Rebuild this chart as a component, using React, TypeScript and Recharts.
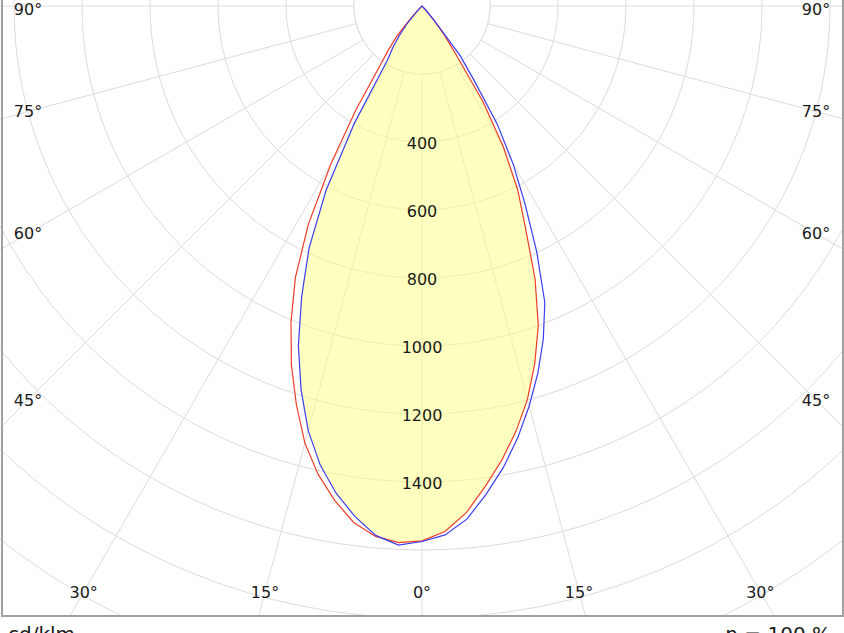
import React from 'react';
import { RadarChart, Radar, PolarGrid, PolarAngleAxis, PolarRadiusAxis } from 'recharts';

// gamma angle (deg from nadir), negative = left half of the diagram
const gammaAngles = [
  -50, -47.5, -45, -42.5, -40, -37.5, -35, -32.5, -30, -27.5,
  -25, -22.5, -20, -17.5, -15, -12.5, -10, -7.5, -5, -2.5,
  0,
  2.5, 5, 7.5, 10, 12.5, 15, 17.5, 20, 22.5,
  25, 27.5, 30, 32.5, 35, 37.5, 40, 42.5, 45, 47.5, 50,
];
// C0-C180 plane (red), cd/klm
const planeC0C180 = [
  0, 0, 15, 50, 112, 160, 220, 360, 535, 724,
  881, 1007, 1123, 1229, 1331, 1411, 1477, 1533, 1566, 1580,
  1573,
  1547, 1496, 1425, 1355, 1280, 1198, 1103, 1000, 869,
  720, 610, 478, 334, 175, 110, 55, 18, 0, 0, 0,
];
// C90-C270 plane (blue), cd/klm
const planeC90C270 = [
  0, 0, 8, 30, 70, 110, 150, 190, 396, 611,
  786, 925, 1063, 1183, 1293, 1383, 1455, 1514, 1563, 1587,
  1575,
  1557, 1515, 1448, 1378, 1301, 1218, 1133, 1043, 944,
  799, 656, 536, 412, 267, 185, 60, 20, 0, 0, 0,
];
const radiusTicks = [0, 200, 400, 600, 800, 1000, 1200, 1400, 1600, 1800, 2000, 2200];
const radiusLabels = [400, 600, 800, 1000, 1200, 1400];
const angleTicks = [0, 15, 30, 45, 60, 75, 90, 105, 120, 135, 150, 165, 180, 195, 210, 225, 240, 255, 270, 285, 300, 315, 330, 345];
const innerCircleValue = 200;
const angleStep = 2.5;

// layout
const W = 844;
const PLOT_H = 617;
const CX = 422;
const CY = 6;
const OUTER_R = 748;
const LABEL_LEFT = 28;
const LABEL_RIGHT = 816;
const LABEL_BOTTOM = 592;
const LABEL_TOP = 9;
const FONT = '"DejaVu Sans", Verdana, sans-serif';

const rows: any[] = [];
for (let i = 0; i < 360 / angleStep; i++) {
  const a = i * angleStep;
  const g = a <= 180 ? a : a - 360;
  const idx = gammaAngles.indexOf(g);
  const c0 = idx >= 0 ? planeC0C180[idx] : 0;
  const c90 = idx >= 0 ? planeC90C270[idx] : 0;
  rows.push({ angle: a, c0, c90, lit: Math.min(c0, c90), disk: innerCircleValue });
}

const AngleTick = (props: any) => {
  const { payload, x, y } = props;
  const v = payload?.value;
  if (typeof v !== 'number') return null;
  if (!(v <= 90 || v >= 270)) return null;
  const gamma = v <= 180 ? v : 360 - v;
  const cx = typeof props.cx === 'number' ? props.cx : CX;
  const cy = typeof props.cy === 'number' ? props.cy : CY;
  let dx = x - cx;
  let dy = y - cy;
  const len = Math.sqrt(dx * dx + dy * dy) || 1;
  dx /= len;
  dy /= len;
  let t = Infinity;
  if (dx > 1e-6) t = Math.min(t, (LABEL_RIGHT - cx) / dx);
  if (dx < -1e-6) t = Math.min(t, (LABEL_LEFT - cx) / dx);
  if (dy > 1e-6) t = Math.min(t, (LABEL_BOTTOM - cy) / dy);
  const px = cx + t * dx;
  const py = Math.max(LABEL_TOP, cy + t * dy);
  return (
    <text x={px} y={py} textAnchor="middle" dominantBaseline="central" fontSize={16} fontFamily={FONT} fill="#1a1a1a">
      {`${gamma}°`}
    </text>
  );
};

const RadiusTick = (props: any) => {
  const { x, y, payload } = props;
  if (!radiusLabels.includes(payload?.value)) return null;
  return (
    <text x={x} y={y + 1} textAnchor="middle" dominantBaseline="central" fontSize={16} fontFamily={FONT} fill="#1a1a1a">
      {payload.value}
    </text>
  );
};

export default function App() {
  return (
    <div style={{ position: 'absolute', left: 0, top: 0, width: W, height: 633, background: '#fff', overflow: 'hidden', fontFamily: FONT }}>
      <div style={{ position: 'absolute', left: 0, top: 0, width: W, height: PLOT_H, overflow: 'hidden' }}>
        <RadarChart
          width={W}
          height={PLOT_H}
          data={rows}
          cx={CX}
          cy={CY}
          innerRadius={0}
          outerRadius={OUTER_R}
          startAngle={-90}
          endAngle={270}
          margin={{ top: 0, right: 0, bottom: 0, left: 0 }}
        >
          <PolarGrid gridType="circle" stroke="#dcdcdc" strokeWidth={1} />
          <Radar dataKey="disk" fill="#ffffff" fillOpacity={1} stroke="#dcdcdc" strokeWidth={1} dot={false} activeDot={false} isAnimationActive={false} />
          <Radar dataKey="lit" fill="#ffff80" fillOpacity={0.5} stroke="none" dot={false} activeDot={false} isAnimationActive={false} />
          <Radar dataKey="c0" fill="none" fillOpacity={0} stroke="#f03c28" strokeWidth={1.2} dot={false} activeDot={false} isAnimationActive={false} />
          <Radar dataKey="c90" fill="none" fillOpacity={0} stroke="#3c3cf0" strokeWidth={1.2} dot={false} activeDot={false} isAnimationActive={false} />
          <PolarAngleAxis dataKey="angle" type="number" domain={[0, 360]} ticks={angleTicks as any} tick={AngleTick} axisLine={false} tickLine={false} />
          <PolarRadiusAxis angle={-90} type="number" domain={[0, 2200]} ticks={radiusTicks as any} tickCount={12} tick={RadiusTick} axisLine={false} tickLine={false} />
        </RadarChart>
      </div>
      <div style={{ position: 'absolute', left: 1, top: -5, width: 843, height: 622, boxSizing: 'border-box', border: '2px solid #a0a0a0', pointerEvents: 'none' }} />
      <div style={{ position: 'absolute', left: 8, top: 624, fontSize: 20, lineHeight: '20px', color: '#1a1a1a', whiteSpace: 'nowrap' }}>cd/klm</div>
      <div style={{ position: 'absolute', right: 13, top: 624, fontSize: 20, lineHeight: '20px', color: '#1a1a1a', whiteSpace: 'nowrap' }}>η = 100 %</div>
    </div>
  );
}
